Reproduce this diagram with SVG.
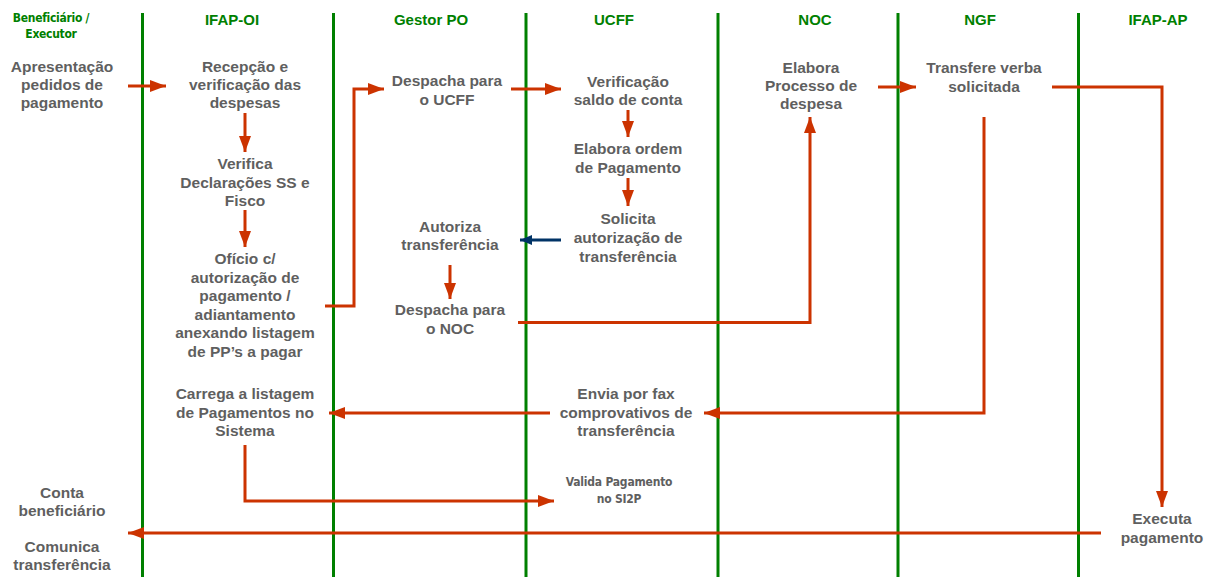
<svg xmlns="http://www.w3.org/2000/svg" width="1216" height="577" viewBox="0 0 1216 577">
<style>
.lane{stroke:#008000;stroke-width:3;fill:none}
.hd{font-family:"Liberation Sans",Arial,sans-serif;font-weight:bold;font-size:15px;fill:#008000;text-anchor:middle}
.hd2{font-family:"DejaVu Sans Condensed","DejaVu Sans",sans-serif;font-stretch:condensed;font-weight:bold;font-size:12px;fill:#008000;text-anchor:middle;letter-spacing:-0.3px}
.t{font-family:"Liberation Sans",Arial,sans-serif;font-weight:bold;font-size:15.5px;fill:#5f5f5f;text-anchor:middle}
.ts{font-family:"DejaVu Sans Condensed","DejaVu Sans",sans-serif;font-stretch:condensed;font-weight:bold;font-size:12px;fill:#5f5f5f;text-anchor:middle;letter-spacing:-0.2px}
.c{stroke:#cc3300;stroke-width:3;fill:none;marker-end:url(#ar)}
.b{stroke:#003366;stroke-width:3;fill:none;marker-end:url(#ab)}
</style>
<defs>
<marker id="ar" markerUnits="userSpaceOnUse" markerWidth="17" markerHeight="12" refX="16" refY="6" orient="auto">
<path d="M0,0 L16,6 L0,12 z" fill="#cc3300"/>
</marker>
<marker id="ab" markerUnits="userSpaceOnUse" markerWidth="13" markerHeight="10" refX="12" refY="5" orient="auto">
<path d="M0,0 L12,5 L0,10 z" fill="#003366"/>
</marker>
</defs>
<rect width="1216" height="577" fill="#ffffff"/>
<g id="lanes">
<line class="lane" x1="142.5" y1="13" x2="142.5" y2="577"/>
<line class="lane" x1="333.5" y1="13" x2="333.5" y2="577"/>
<line class="lane" x1="526" y1="13" x2="526" y2="577"/>
<line class="lane" x1="718" y1="13" x2="718" y2="577"/>
<line class="lane" x1="898" y1="13" x2="898" y2="577"/>
<line class="lane" x1="1078.5" y1="13" x2="1078.5" y2="577"/>
</g>
<g id="headers">
<text class="hd2" x="51" y="22">Beneficiário /</text>
<text class="hd2" x="51" y="38">Executor</text>
<text class="hd" x="232" y="25">IFAP-OI</text>
<text class="hd" x="431" y="25">Gestor PO</text>
<text class="hd" x="614" y="25">UCFF</text>
<text class="hd" x="815" y="25">NOC</text>
<text class="hd" x="980" y="25">NGF</text>
<text class="hd" x="1158" y="25">IFAP-AP</text>
</g>
<g id="connectors">
<line class="c" x1="128" y1="86" x2="166" y2="86"/>
<line class="c" x1="245" y1="113" x2="245" y2="152"/>
<line class="c" x1="245" y1="210" x2="245" y2="247"/>
<polyline class="c" points="325,306 354,306 354,89 384,89"/>
<line class="c" x1="511" y1="89" x2="561" y2="89"/>
<line class="c" x1="628" y1="110" x2="628" y2="137"/>
<line class="c" x1="628" y1="178" x2="628" y2="206"/>
<line class="b" x1="561" y1="240" x2="520" y2="240"/>
<line class="c" x1="450" y1="265" x2="450" y2="299"/>
<polyline class="c" points="518,322.5 810,322.5 810,117"/>
<line class="c" x1="878" y1="87" x2="916" y2="87"/>
<polyline class="c" points="1052,87 1162,87 1162,507"/>
<polyline class="c" points="984,117 984,413 704,413"/>
<line class="c" x1="550" y1="413" x2="329" y2="413"/>
<polyline class="c" points="245,445 245,501 554,501"/>
<line class="c" x1="1101" y1="533" x2="128" y2="533"/>
</g>
<g id="n-apresentacao">
<text class="t" x="62" y="72">Apresentação</text>
<text class="t" x="62" y="90">pedidos de</text>
<text class="t" x="62" y="108">pagamento</text>
</g>
<g id="n-recepcao">
<text class="t" x="245" y="72">Recepção e</text>
<text class="t" x="245" y="90">verificação das</text>
<text class="t" x="245" y="108">despesas</text>
</g>
<g id="n-verifica">
<text class="t" x="245" y="169">Verifica</text>
<text class="t" x="245" y="187.5">Declarações SS e</text>
<text class="t" x="245" y="206">Fisco</text>
</g>
<g id="n-oficio">
<text class="t" x="245" y="264">Ofício c/</text>
<text class="t" x="245" y="282.5">autorização de</text>
<text class="t" x="245" y="301">pagamento /</text>
<text class="t" x="245" y="319.5">adiantamento</text>
<text class="t" x="245" y="338">anexando listagem</text>
<text class="t" x="245" y="356.5">de PP’s a pagar</text>
</g>
<g id="n-despacha-ucff">
<text class="t" x="447" y="86">Despacha para</text>
<text class="t" x="447" y="105">o UCFF</text>
</g>
<g id="n-verificacao-saldo">
<text class="t" x="628" y="87">Verificação</text>
<text class="t" x="628" y="105">saldo de conta</text>
</g>
<g id="n-elabora-ordem">
<text class="t" x="628" y="154">Elabora ordem</text>
<text class="t" x="628" y="173">de Pagamento</text>
</g>
<g id="n-solicita">
<text class="t" x="628" y="224">Solicita</text>
<text class="t" x="628" y="243">autorização de</text>
<text class="t" x="628" y="262">transferência</text>
</g>
<g id="n-autoriza">
<text class="t" x="450" y="232">Autoriza</text>
<text class="t" x="450" y="250">transferência</text>
</g>
<g id="n-despacha-noc">
<text class="t" x="450" y="315">Despacha para</text>
<text class="t" x="450" y="334">o NOC</text>
</g>
<g id="n-elabora-processo">
<text class="t" x="811" y="73">Elabora</text>
<text class="t" x="811" y="91">Processo de</text>
<text class="t" x="811" y="109">despesa</text>
</g>
<g id="n-transfere">
<text class="t" x="984" y="73">Transfere verba</text>
<text class="t" x="984" y="92">solicitada</text>
</g>
<g id="n-carrega">
<text class="t" x="245" y="399">Carrega a listagem</text>
<text class="t" x="245" y="418">de Pagamentos no</text>
<text class="t" x="245" y="436">Sistema</text>
</g>
<g id="n-envia">
<text class="t" x="626" y="399">Envia por fax</text>
<text class="t" x="626" y="418">comprovativos de</text>
<text class="t" x="626" y="436">transferência</text>
</g>
<g id="n-valida">
<text class="ts" x="619" y="486">Valida Pagamento</text>
<text class="ts" x="619" y="503">no SI2P</text>
</g>
<g id="n-conta">
<text class="t" x="62" y="498">Conta</text>
<text class="t" x="62" y="516">beneficiário</text>
</g>
<g id="n-comunica">
<text class="t" x="62" y="552">Comunica</text>
<text class="t" x="62" y="570">transferência</text>
</g>
<g id="n-executa">
<text class="t" x="1162" y="524">Executa</text>
<text class="t" x="1162" y="543">pagamento</text>
</g>
</svg>
